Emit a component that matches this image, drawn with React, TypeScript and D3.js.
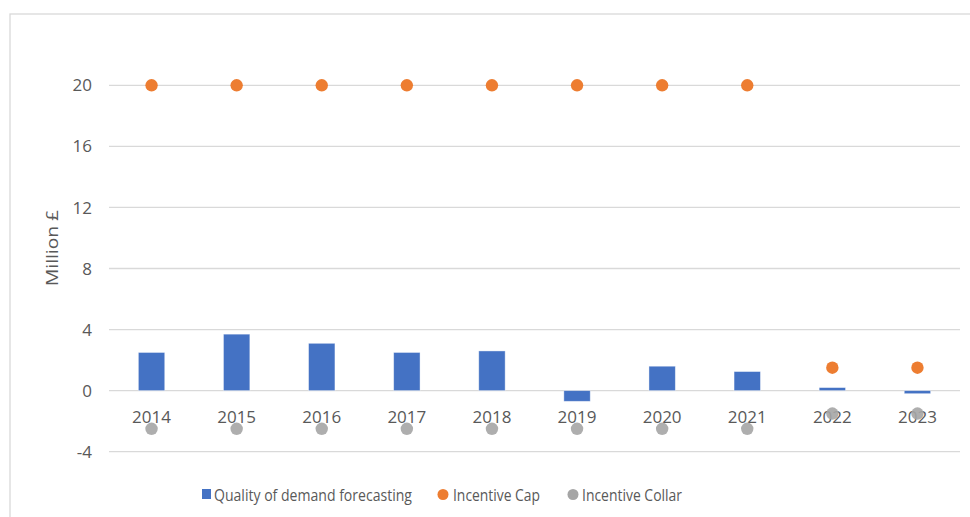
import React from "react";
import * as d3 from "d3";

const years = ["2014", "2015", "2016", "2017", "2018", "2019", "2020", "2021", "2022", "2023"];
const forecasting = [2.5, 3.7, 3.1, 2.5, 2.6, -0.7, 1.6, 1.25, 0.2, -0.2];
const incentiveCap = [20, 20, 20, 20, 20, 20, 20, 20, 1.5, 1.5];
const incentiveCollar = [-2.5, -2.5, -2.5, -2.5, -2.5, -2.5, -2.5, -2.5, -1.5, -1.5];
const yTicks = [-4, 0, 4, 8, 12, 16, 20];
const seriesNames = ["Quality of demand forecasting", "Incentive Cap", "Incentive Collar"];

const W = 970;
const H = 517;
const FONT = "'Open Sans', 'Segoe UI', sans-serif";
const FS = 17;
const TXT = "#595959";

export default function App() {
  const x = d3.scaleBand<string>().domain(years).range([109, 960]).paddingInner(0).paddingOuter(0);
  const y = d3.scaleLinear().domain([-4, 20]).range([451.7, 85.3]);
  const bw = x.bandwidth() * 0.31;

  return (
    <svg width={W} height={H} style={{ position: "absolute", left: 0, top: 0 }}>
      <rect x={0} y={0} width={W} height={H} fill="#fff" />
      <rect x={10} y={14} width={W + 20} height={H + 20} fill="#fff" stroke="#d9d9d9" strokeWidth={1.3} />
      {yTicks.map((t) => (
        <g key={t}>
          <line x1={109} x2={960} y1={y(t)} y2={y(t)} stroke="#d9d9d9" strokeWidth={1.3} />
          <text x={92} y={y(t)} dy="0.36em" textAnchor="end" fontFamily={FONT} fontSize={FS} fill={TXT}>
            {t}
          </text>
        </g>
      ))}
      {years.map((yr, i) => {
        const v = forecasting[i];
        const cx = (x(yr) as number) + x.bandwidth() / 2;
        return (
          <rect
            key={yr}
            x={cx - bw / 2}
            y={Math.min(y(v), y(0))}
            width={bw}
            height={Math.abs(y(v) - y(0))}
            fill="#4472C4"
            stroke="#ffffff"
            strokeOpacity={0.5}
            strokeWidth={0.8}
          />
        );
      })}
      {years.map((yr) => (
        <text
          key={"l" + yr}
          x={(x(yr) as number) + x.bandwidth() / 2}
          y={417}
          dy="0.36em"
          textAnchor="middle"
          fontFamily={FONT}
          fontSize={FS}
          fill={TXT}
        >
          {yr}
        </text>
      ))}
      {years.map((yr, i) => (
        <circle key={"c" + yr} cx={(x(yr) as number) + x.bandwidth() / 2} cy={y(incentiveCap[i])} r={6.2} fill="#ED7D31" />
      ))}
      {years.map((yr, i) => (
        <circle key={"k" + yr} cx={(x(yr) as number) + x.bandwidth() / 2} cy={y(incentiveCollar[i])} r={6.2} fill="#A5A5A5" fillOpacity={0.9} />
      ))}
      <text
        transform="translate(52,248) rotate(-90)"
        dy="0.36em"
        textAnchor="middle"
        fontFamily={FONT}
        fontSize={FS}
        fill={TXT}
        textLength={76}
        lengthAdjust="spacingAndGlyphs"
      >
        Million £
      </text>
      <g fontFamily={FONT} fontSize={FS} fill={TXT}>
        <rect x={202} y={489} width={9} height={10} fill="#4472C4" />
        <text x={214} y={495} dy="0.36em" textLength={198} lengthAdjust="spacingAndGlyphs">{seriesNames[0]}</text>
        <circle cx={443} cy={494.5} r={5.5} fill="#ED7D31" />
        <text x={453} y={495} dy="0.36em" textLength={87} lengthAdjust="spacingAndGlyphs">{seriesNames[1]}</text>
        <circle cx={573} cy={494.5} r={5.5} fill="#A5A5A5" />
        <text x={582} y={495} dy="0.36em" textLength={100} lengthAdjust="spacingAndGlyphs">{seriesNames[2]}</text>
      </g>
    </svg>
  );
}
